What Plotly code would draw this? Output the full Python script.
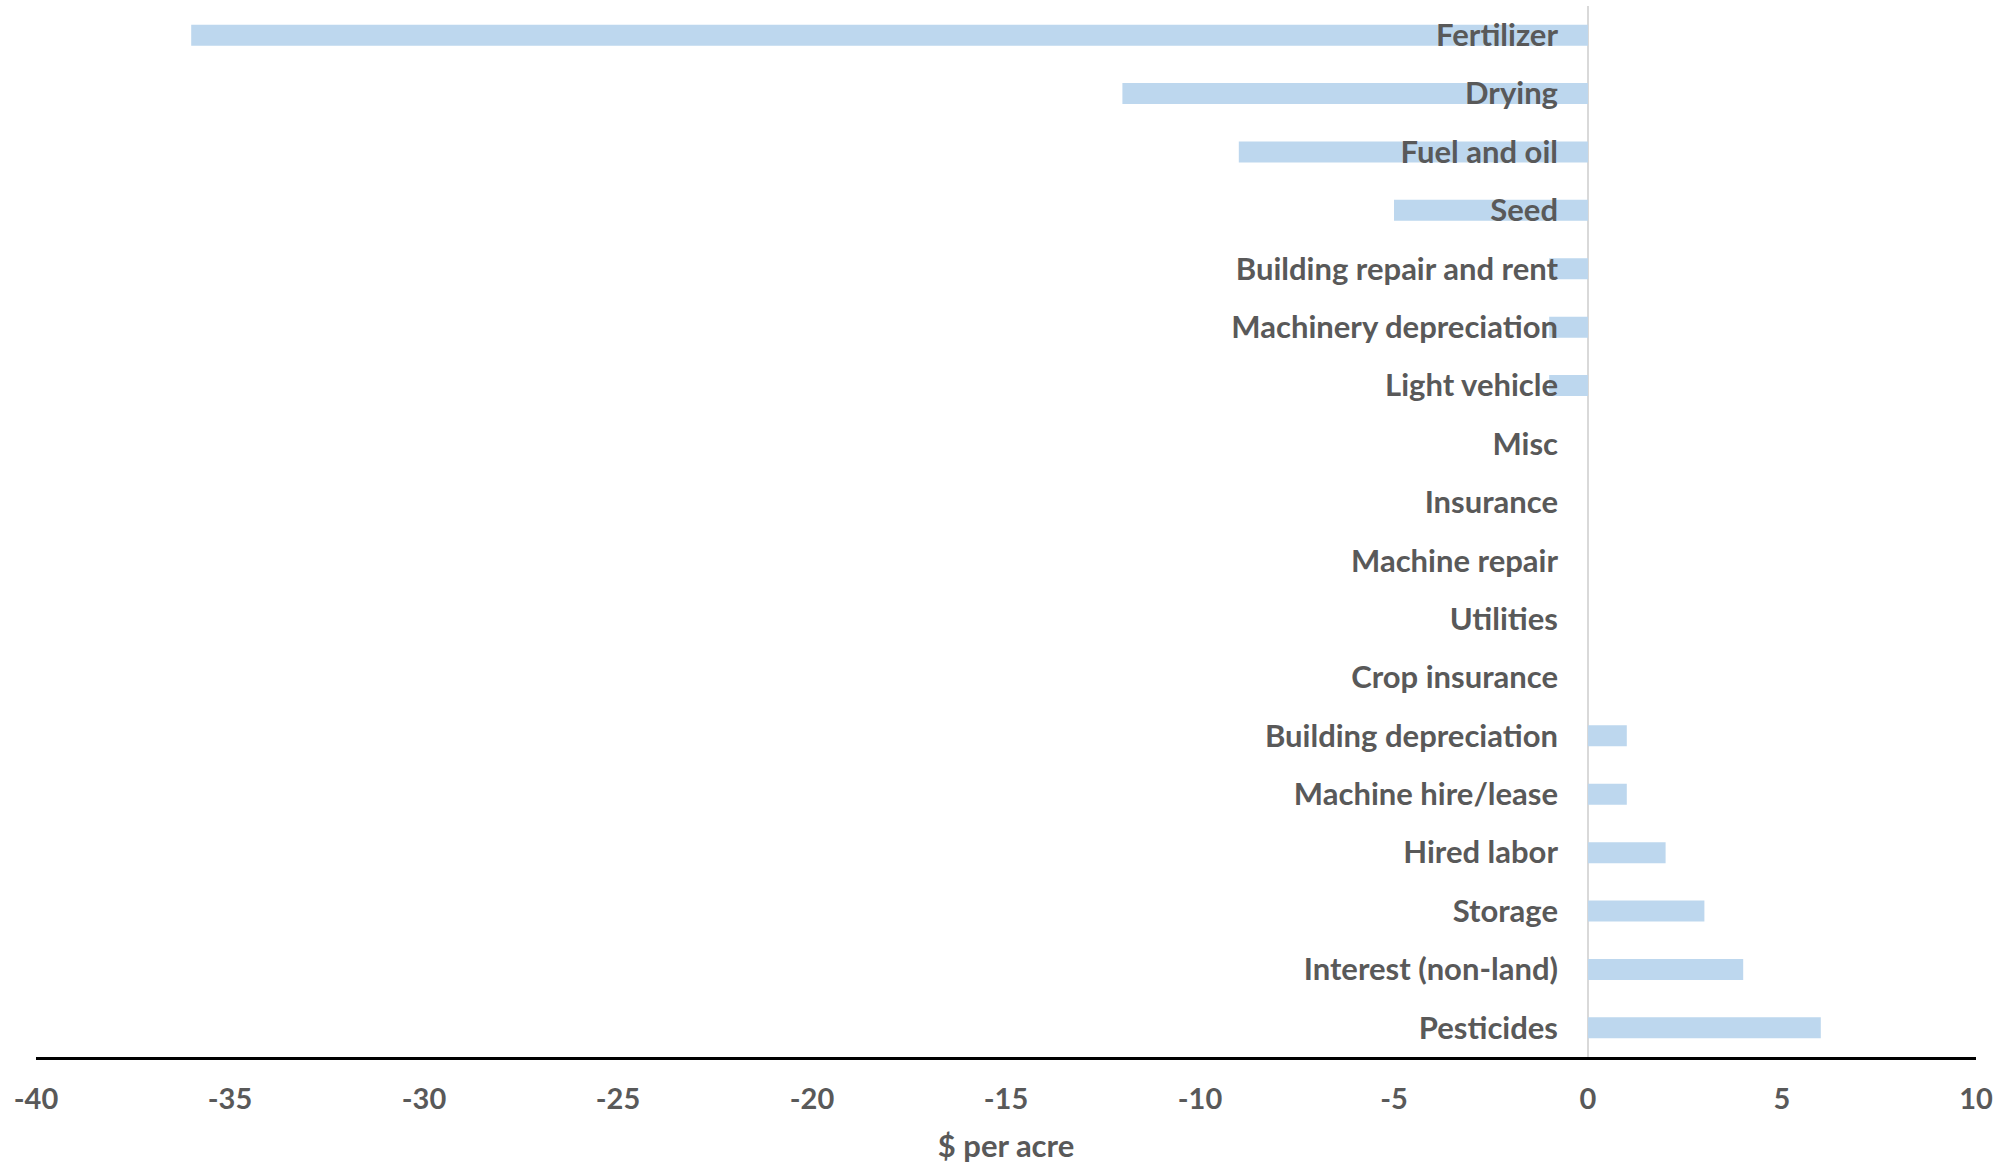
import plotly.graph_objects as go

categories = ["Fertilizer", "Drying", "Fuel and oil", "Seed", "Building repair and rent",
              "Machinery depreciation", "Light vehicle", "Misc", "Insurance", "Machine repair",
              "Utilities", "Crop insurance", "Building depreciation", "Machine hire/lease",
              "Hired labor", "Storage", "Interest (non-land)", "Pesticides"]
values = [-36, -12, -9, -5, -1, -1, -1, 0, 0, 0, 0, 0, 1, 1, 2, 3, 4, 6]
x_range = [-40, 10]
x_ticks = [-40, -35, -30, -25, -20, -15, -10, -5, 0, 5, 10]
x_title = "$ per acre"

FONT = "Lato"
TXT = "#595959"

fig = go.Figure(go.Bar(
    x=values, y=categories, orientation="h",
    marker=dict(color="#bdd7ee", line=dict(width=0)),
    width=0.36,
))

zero_pos = (0 - x_range[0]) / (x_range[1] - x_range[0])

fig.update_layout(
    width=2001, height=1165,
    margin=dict(l=36, r=25, t=6, b=108),
    plot_bgcolor="white", paper_bgcolor="white",
    showlegend=False,
    font=dict(family=FONT, size=29, color=TXT, weight="bold"),
    xaxis=dict(
        range=x_range, tickvals=x_ticks, ticktext=[str(v) for v in x_ticks],
        showgrid=False, zeroline=True, zerolinecolor="#d9d9d9", zerolinewidth=2,
        showline=True, linecolor="black", linewidth=3,
        ticks="", ticklabelstandoff=14,
        tickfont=dict(family=FONT, size=29, color=TXT, weight="bold"),
        title=dict(text=x_title, standoff=22,
                   font=dict(family=FONT, size=31, color=TXT, weight="bold")),
    ),
    yaxis=dict(
        type="category", categoryorder="array", categoryarray=categories,
        autorange="reversed",
        anchor="free", position=zero_pos,
        showgrid=False, zeroline=False, showline=False, ticks="",
        ticklabelstandoff=30,
        tickfont=dict(family=FONT, size=31, color=TXT, weight="bold"),
    ),
)

fig.write_html("out.html")
